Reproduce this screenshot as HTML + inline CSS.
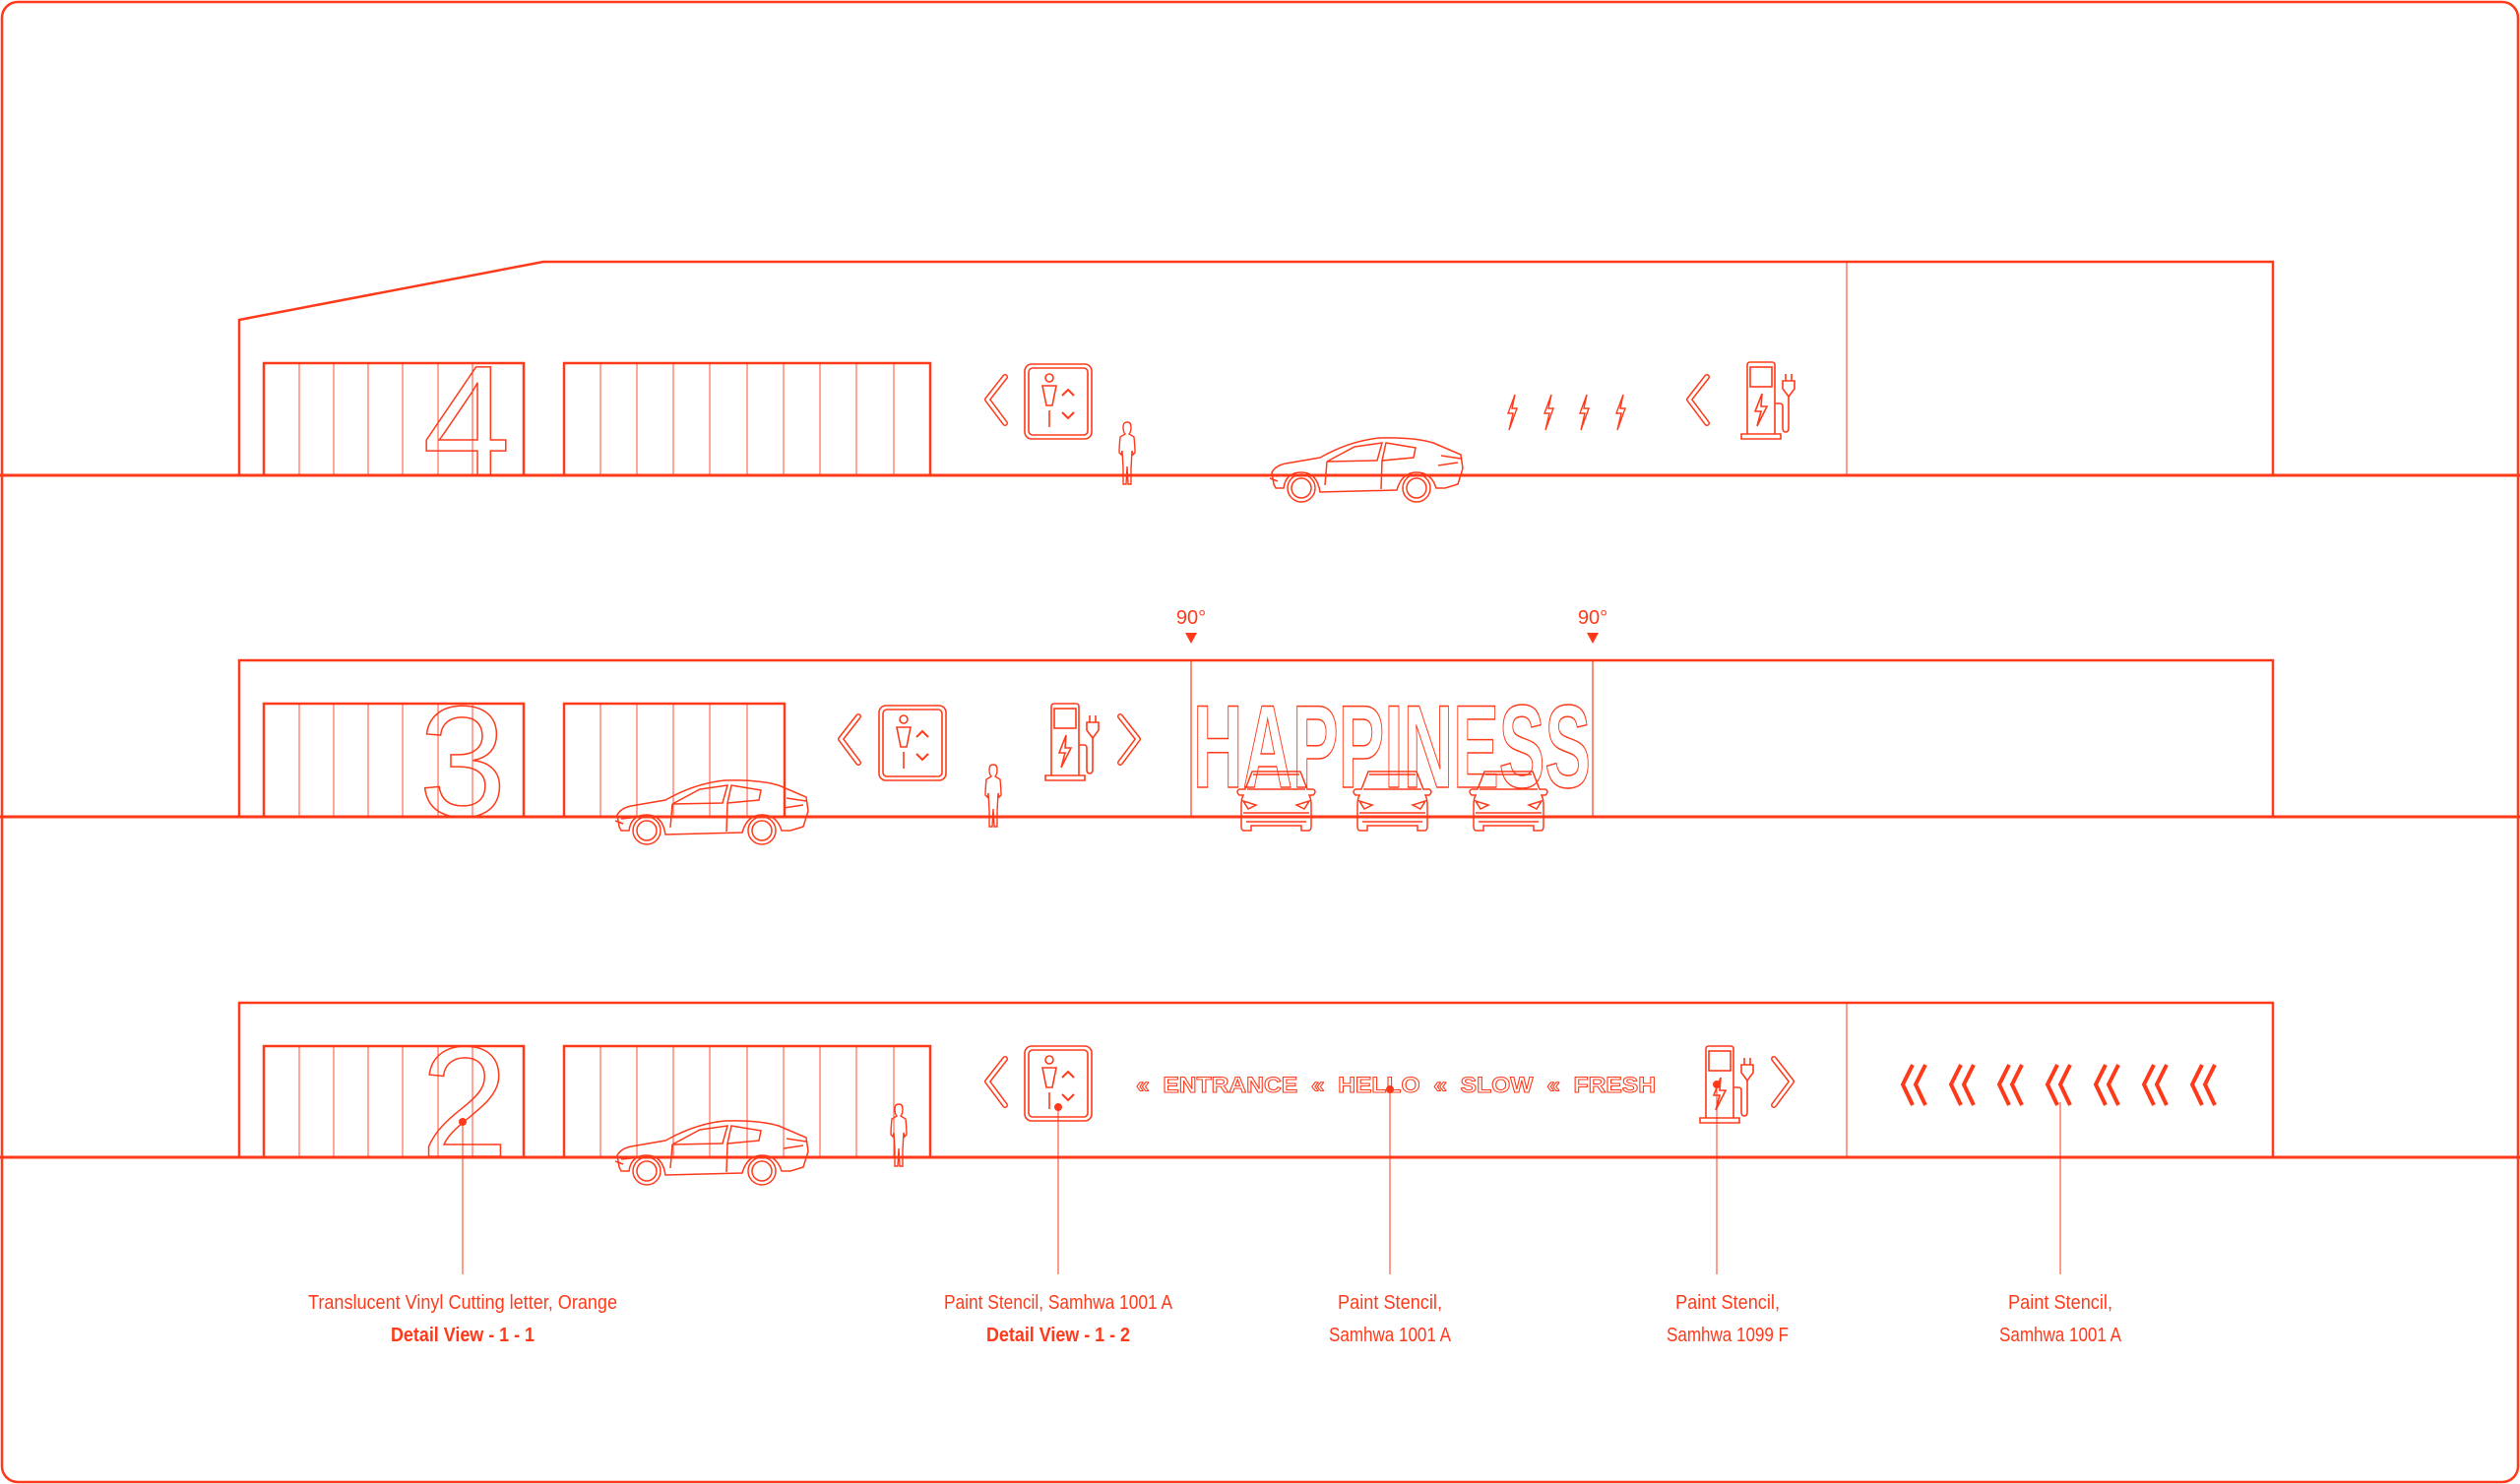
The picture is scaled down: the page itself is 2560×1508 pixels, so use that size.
<!DOCTYPE html>
<html><head><meta charset="utf-8"><style>
html,body{margin:0;padding:0;background:#fff;}
svg{display:block;}
text{font-family:"Liberation Sans",sans-serif;}
</style></head><body>
<svg width="2560" height="1508" viewBox="0 0 2560 1508" xmlns="http://www.w3.org/2000/svg">
<defs>
<g id="chevL" fill="none" stroke-linecap="round" stroke-linejoin="round">
 <path d="M23,3 L5,26 L23,50" stroke="#ff3a1a" stroke-width="6"/>
 <path d="M23,3 L5,26 L23,50" stroke="#fff" stroke-width="3"/>
</g>
<g id="elev" fill="none" stroke="#ff3a1a" stroke-width="1.6">
 <rect x="1" y="1" width="68" height="76" rx="7"/>
 <rect x="5" y="5" width="60" height="68" rx="4"/>
 <circle cx="26" cy="15" r="4"/>
 <path d="M19,23 L33,23 L29,43 L23,43 Z"/>
 <path d="M26,48 L26,65"/>
 <path d="M39,33 L45,27 L51,33 M39,50 L45,56 L51,50" stroke-width="2"/>
</g>
<g id="charger" fill="none" stroke="#ff3a1a" stroke-width="1.6">
 <path d="M7,74 L7,4 Q7,1 10,1 L32,1 Q35,1 35,4 L35,74"/>
 <path d="M1,79 L1,74 L41,74 L41,79 Z"/>
 <rect x="10" y="6" width="22" height="20"/>
 <path d="M22,33 L15,51 L21,51 L17,66 L27,46 L21,46 Z"/>
 <path d="M35,43 L40,43 Q43,43 43,46 L43,68 Q43,72 46,72 Q49,72 49,68 L49,36"/>
 <path d="M43,20 L55,20 L55,28 L49,36 L43,28 Z"/>
 <path d="M46,20 L46,13 M52,20 L52,13"/>
</g>
<g id="person" fill="none" stroke="#ff3a1a" stroke-width="1.4">
 <path d="M10,1 Q14,1 14,6 Q14,11 12,13 L17,16 Q18,26 18,32 L16,34 L15,30 L14,48 L14,64 L11,64 L10,46 L9,64 L6,64 L6,48 L5,30 L4,34 L2,32 Q2,26 3,16 L8,13 Q6,11 6,6 Q6,1 10,1 Z"/>
</g>
<g id="bolt" fill="none" stroke="#ff3a1a" stroke-width="1.4">
 <path d="M9,1 L2,20 L7,20 L3,37 L11,15 L6,15 Z"/>
</g>
<g id="sidecar" fill="none" stroke="#ff3a1a" stroke-width="1.5">
 <path d="M8,52 L6,40 Q10,33 20,31 L55,25 Q85,8 115,5 Q150,4 170,10 L198,22 L200,36 L195,52 L182,56 L173,56 Q168,40 153,40 Q138,40 133,58 L55,60 Q52,40 36,40 Q20,40 18,56 L10,56 Z"/>
 <path d="M12,49 L4,46 M62,29 L90,14 L118,10 L113,28 Z M122,10 L118,28 L150,25 L152,15 Z"/>
 <path d="M62,29 L60,53 M118,28 L117,57 M10,44 L30,42 M175,33 L195,30 M178,23 L198,26"/>
 <circle cx="36" cy="56" r="14"/><circle cx="36" cy="56" r="10"/>
 <circle cx="153" cy="56" r="14"/><circle cx="153" cy="56" r="10"/>
</g>
<g id="frontcar" fill="none" stroke="#ff3a1a" stroke-width="1.5">
 <path d="M18,2 L67,2 L74,20 L80,20 Q84,22 80,26 L76,26 Q78,30 78,36 L78,58 Q78,62 75,62 L68,62 L68,57 L17,57 L17,62 L10,62 Q7,62 7,58 L7,36 Q7,30 9,26 L5,26 Q1,22 5,20 L11,20 Z"/>
 <path d="M13,20 L72,20 M19,5 L66,5 M9,32 L22,36 L14,40 Z M76,32 L63,36 L71,40 Z M9,44 L76,44 M10,48 L75,48 M12,53 L73,53"/>
</g>
<g id="dchev" fill="none" stroke="#ff3a1a" stroke-width="4">
 <path d="M13,1 L3,21 L13,42 M26,1 L16,21 L26,42"/>
</g>
</defs>

<rect x="2" y="2" width="2556" height="1504" rx="16" fill="none" stroke="#ff3a1a" stroke-width="2.5"/>

<g fill="none" stroke="#ff3a1a">
 <path d="M0,483 H2560 M0,830 H2560 M0,1176 H2560" stroke-width="3"/>
 <path d="M243,483 L243,325 L552,266 L2309,266 L2309,483" stroke-width="2.5"/>
 <path d="M1876,266 V483" stroke-width="1"/>
 <path d="M243,830 L243,671 L2309,671 L2309,830" stroke-width="2.5"/>
 <path d="M1210,671 V830 M1618,671 V830" stroke-width="1.2"/>
 <path d="M243,1176 L243,1019 L2309,1019 L2309,1176" stroke-width="2.5"/>
 <path d="M1876,1019 V1176" stroke-width="1"/>
 <g stroke-width="2.5">
  <path d="M268,483 V369 H532 V483 M573,483 V369 H945 V483"/>
  <path d="M268,830 V715 H532 V830 M573,830 V715 H797 V830"/>
  <path d="M268,1176 V1063 H532 V1176 M573,1176 V1063 H945 V1176"/>
 </g>
 <g stroke-width="0.9">
  <path d="M304,369V483M339,369V483M374,369V483M409,369V483M445,369V483M480,369V483"/>
  <path d="M610,369V483M647,369V483M684,369V483M721,369V483M759,369V483M796,369V483M833,369V483M870,369V483M908,369V483"/>
  <path d="M304,715V830M339,715V830M374,715V830M409,715V830M445,715V830M480,715V830"/>
  <path d="M610,715V830M647,715V830M684,715V830M721,715V830M759,715V830"/>
  <path d="M304,1063V1176M339,1063V1176M374,1063V1176M409,1063V1176M445,1063V1176M480,1063V1176"/>
  <path d="M610,1063V1176M647,1063V1176M684,1063V1176M721,1063V1176M759,1063V1176M796,1063V1176M833,1063V1176M870,1063V1176M908,1063V1176"/>
 </g>
</g>

<g fill="none" stroke="#ff3a1a" stroke-width="1.5" font-size="160" text-anchor="middle">
 <text x="474" y="483">4</text>
 <text x="470" y="829">3</text>
 <text x="472" y="1175">2</text>
</g>

<text x="1212" y="800" font-size="120" font-weight="bold" fill="none" stroke="#ff3a1a" stroke-width="1.5" textLength="404" lengthAdjust="spacingAndGlyphs">HAPPINESS</text>

<g fill="#ff3a1a">
 <text x="1210" y="634" font-size="20" text-anchor="middle">90°</text>
 <text x="1618" y="634" font-size="20" text-anchor="middle">90°</text>
 <path d="M1204,643 L1216,643 L1210,654 Z M1612,643 L1624,643 L1618,654 Z"/>
</g>

<use href="#chevL" x="998" y="380"/>
<use href="#elev" x="1040" y="369"/>
<use href="#person" x="1135" y="428"/>
<use href="#sidecar" x="1286" y="440"/>
<use href="#bolt" x="1530" y="400"/>
<use href="#bolt" x="1567" y="400"/>
<use href="#bolt" x="1603" y="400"/>
<use href="#bolt" x="1640" y="400"/>
<use href="#chevL" x="1711" y="380"/>
<use href="#charger" x="1768" y="367"/>

<use href="#chevL" x="849" y="725"/>
<use href="#elev" x="892" y="716"/>
<use href="#person" x="999" y="776"/>
<use href="#charger" x="1061" y="714"/>
<g transform="translate(1161,725) scale(-1,1)"><use href="#chevL"/></g>
<use href="#sidecar" x="621" y="788"/>
<use href="#frontcar" x="1254" y="782"/>
<use href="#frontcar" x="1372" y="782"/>
<use href="#frontcar" x="1490" y="782"/>

<use href="#chevL" x="998" y="1073"/>
<use href="#elev" x="1040" y="1062"/>
<use href="#person" x="903" y="1121"/>
<use href="#sidecar" x="621" y="1134"/>
<text x="1154" y="1110" font-size="22" font-weight="bold" fill="none" stroke="#ff3a1a" stroke-width="1" textLength="528" lengthAdjust="spacingAndGlyphs" xml:space="preserve">«  ENTRANCE  «  HELLO  «  SLOW  «  FRESH</text>
<use href="#charger" x="1726" y="1062"/>
<g transform="translate(1825,1073) scale(-1,1)"><use href="#chevL"/></g>
<use href="#dchev" x="1930" y="1081"/>
<use href="#dchev" x="1979" y="1081"/>
<use href="#dchev" x="2028" y="1081"/>
<use href="#dchev" x="2077" y="1081"/>
<use href="#dchev" x="2126" y="1081"/>
<use href="#dchev" x="2175" y="1081"/>
<use href="#dchev" x="2224" y="1081"/>

<g stroke="#ff3a1a" stroke-width="1" fill="#ff3a1a">
 <path d="M470,1140 V1295 M1075,1125 V1295 M1412,1107 V1295 M1744,1102 V1295 M2093,1120 V1295"/>
 <circle cx="470" cy="1140" r="3.5"/>
 <circle cx="1075" cy="1125" r="3.5"/>
 <circle cx="1412" cy="1107" r="3.5"/>
 <circle cx="1744" cy="1102" r="3.5"/>
</g>

<g fill="#ff3a1a" font-size="20" text-anchor="middle">
 <text x="470" y="1330" textLength="314" lengthAdjust="spacingAndGlyphs">Translucent Vinyl Cutting letter, Orange</text>
 <text x="470" y="1363" font-weight="bold" textLength="146" lengthAdjust="spacingAndGlyphs">Detail View - 1 - 1</text>
 <text x="1075" y="1330" textLength="232" lengthAdjust="spacingAndGlyphs">Paint Stencil, Samhwa 1001 A</text>
 <text x="1075" y="1363" font-weight="bold" textLength="146" lengthAdjust="spacingAndGlyphs">Detail View - 1 - 2</text>
 <text x="1412" y="1330" textLength="106" lengthAdjust="spacingAndGlyphs">Paint Stencil,</text>
 <text x="1412" y="1363" textLength="124" lengthAdjust="spacingAndGlyphs">Samhwa 1001 A</text>
 <text x="1755" y="1330" textLength="106" lengthAdjust="spacingAndGlyphs">Paint Stencil,</text>
 <text x="1755" y="1363" textLength="124" lengthAdjust="spacingAndGlyphs">Samhwa 1099 F</text>
 <text x="2093" y="1330" textLength="106" lengthAdjust="spacingAndGlyphs">Paint Stencil,</text>
 <text x="2093" y="1363" textLength="124" lengthAdjust="spacingAndGlyphs">Samhwa 1001 A</text>
</g>
</svg>
</body></html>
